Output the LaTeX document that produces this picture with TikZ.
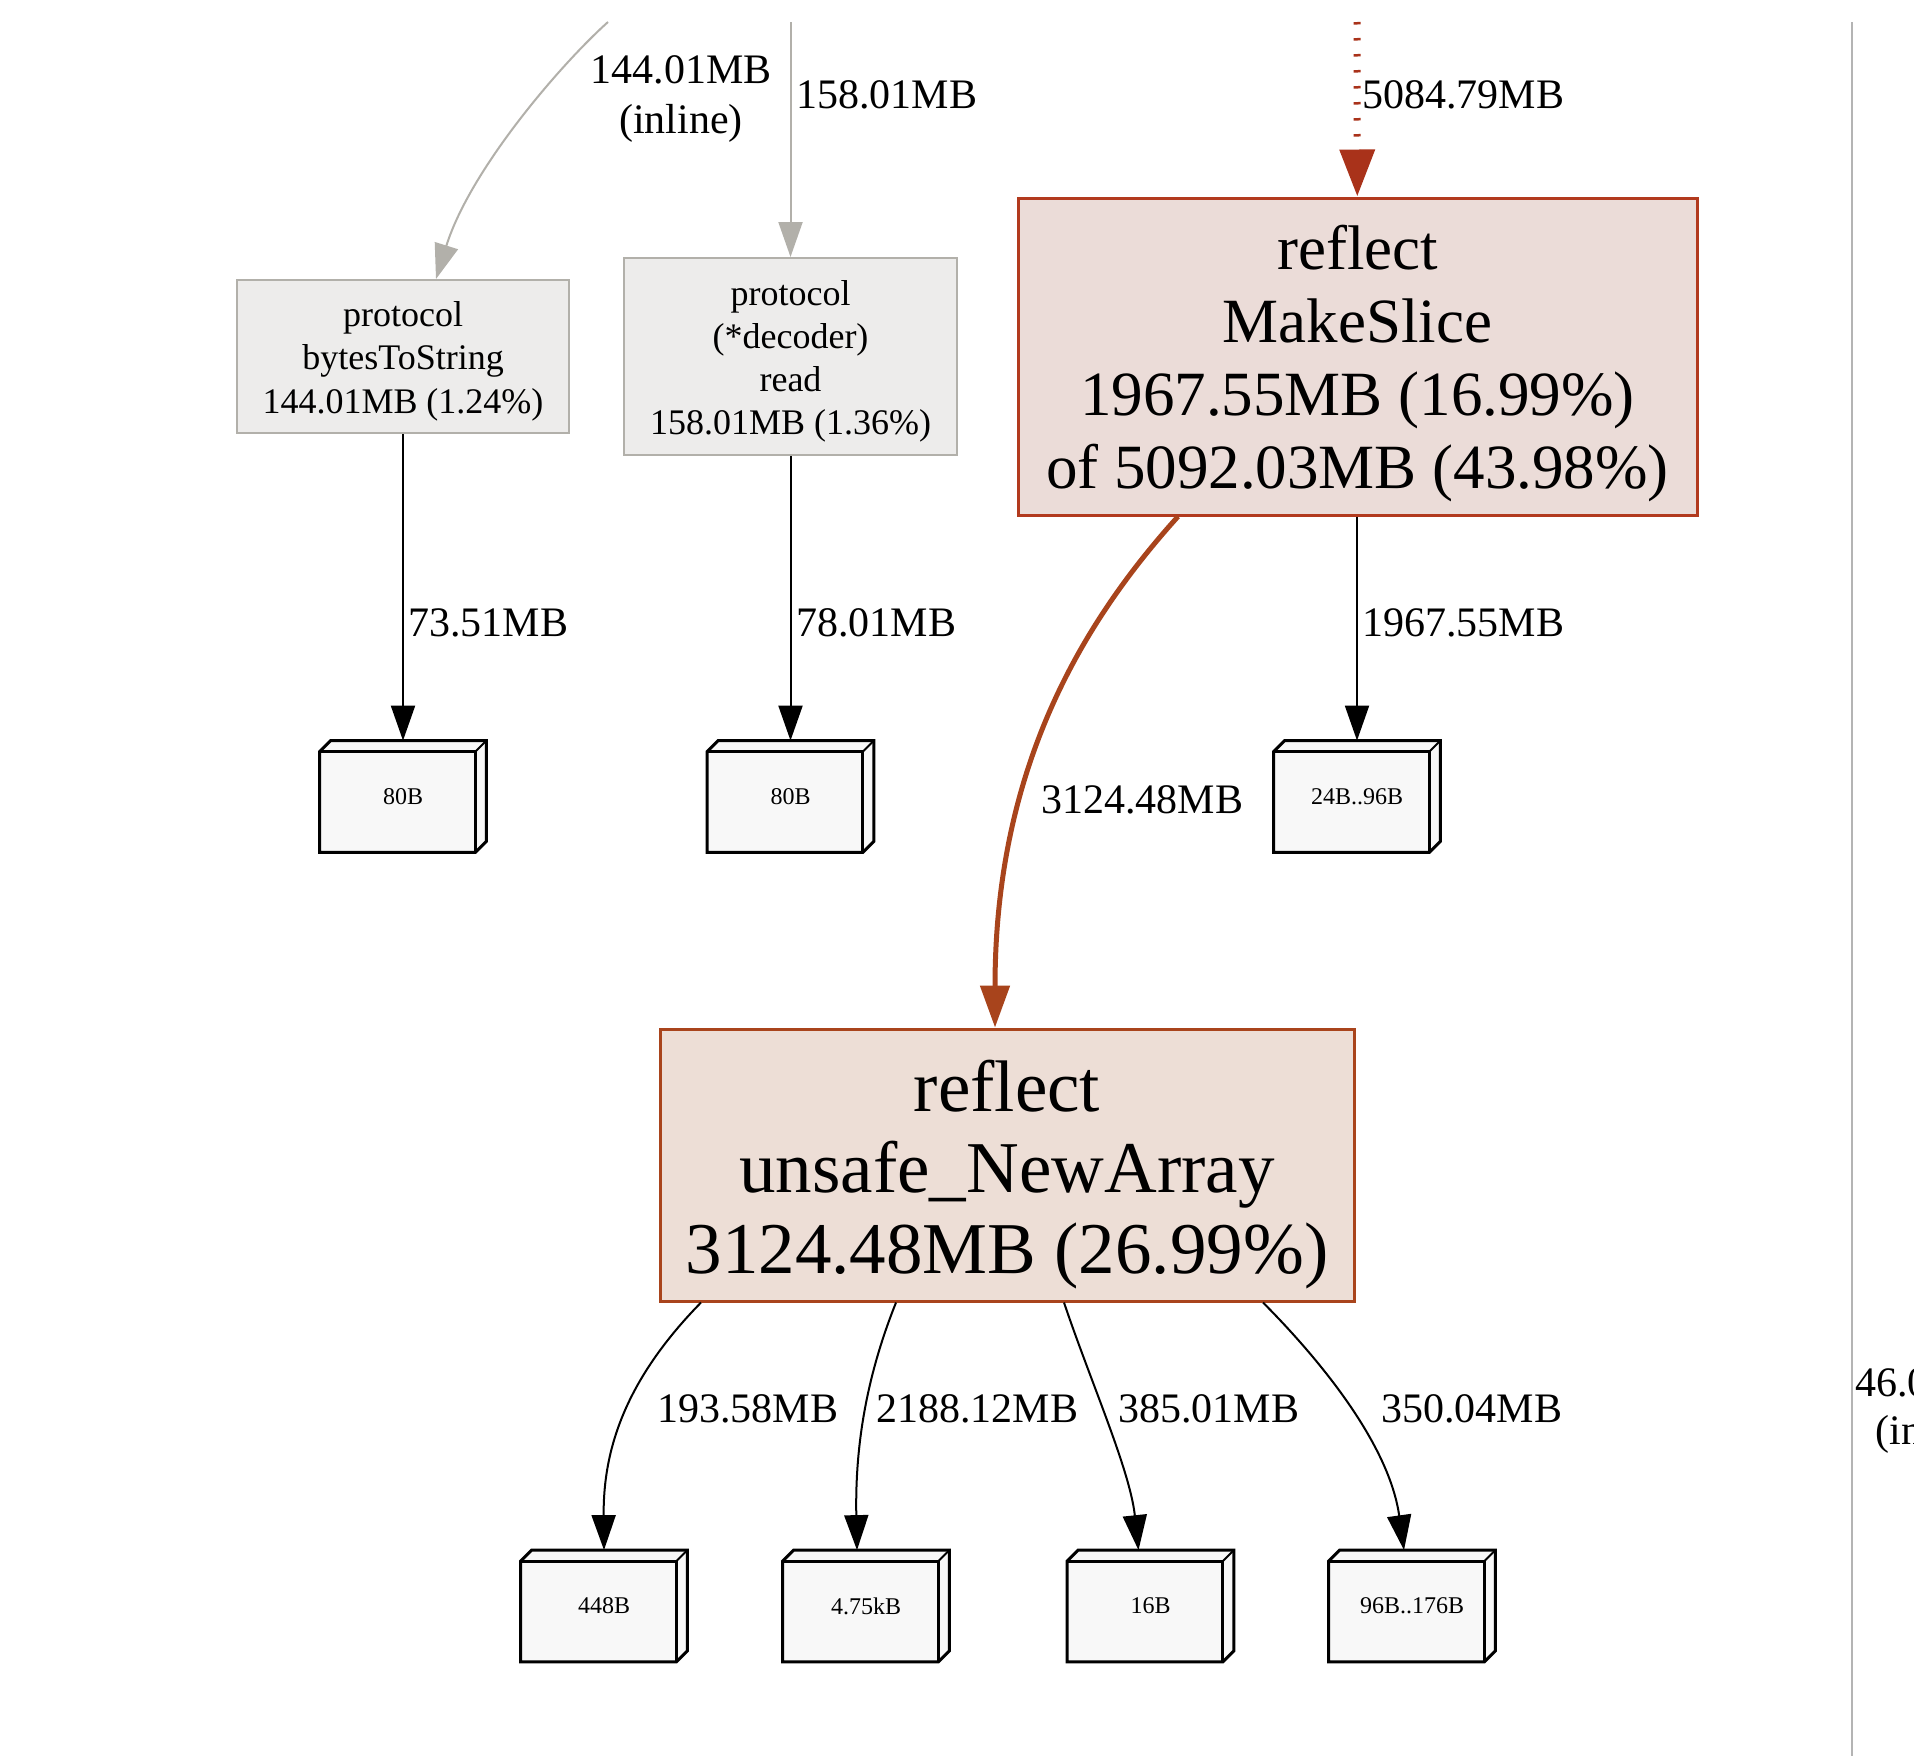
\documentclass[tikz,border=0pt]{standalone}
\usepackage{fontspec}
\setmainfont{Liberation Serif}
\usetikzlibrary{arrows.meta,backgrounds}
\definecolor{edgegray}{HTML}{B2B0AA}
\definecolor{grayfill}{HTML}{EDECEB}
\definecolor{mksline}{HTML}{B23A1E}
\definecolor{mksfill}{HTML}{EBDCD8}
\definecolor{nwaline}{HTML}{A9441C}
\definecolor{nwafill}{HTML}{EDDED6}
\definecolor{hotedge}{HTML}{A9321A}
\definecolor{warmedge}{HTML}{A8441C}
\definecolor{blkfill}{HTML}{F8F8F8}
\definecolor{rulegray}{HTML}{B4B4B4}

\begin{document}
\begin{tikzpicture}[x=0.5pt,y=-0.5pt]
\tikzstyle{fn}=[rectangle,draw=edgegray,fill=grayfill,line width=1pt,inner sep=0pt,align=center,font=\fontsize{18}{21.6}\selectfont]
\tikzstyle{hotfn}=[rectangle,line width=1.5pt,inner sep=0pt,align=center]
\tikzstyle{blk}=[rectangle,inner sep=0pt,minimum width=83pt,minimum height=55.5pt,font=\fontsize{12}{14}\selectfont]
\tikzstyle{lbl}=[anchor=west,inner sep=0pt,align=center,font=\fontsize{21}{25}\selectfont]
\tikzstyle{thin}=[line width=1pt,-{Triangle[length=17.5pt,width=12pt]}]
\tikzstyle{grayedge}=[thin,color=edgegray]
\useasboundingbox (0,0) rectangle (1914,1756);

% functions
\node[fn,minimum width=166pt,minimum height=76.5pt](bts) at (403,356.5) {\rule{0pt}{17.3pt}protocol\\bytesToString\\144.01MB (1.24\%)};
\node[fn,minimum width=166.5pt,minimum height=98.5pt](dec) at (790.5,356.5) {\rule{0pt}{17.3pt}protocol\\(*decoder)\\read\\158.01MB (1.36\%)};
\node[hotfn,draw=mksline,fill=mksfill,minimum width=339.5pt,minimum height=158.5pt,font=\fontsize{31.5}{36.5}\selectfont](mks) at (1357.5,356.5) {\rule{0pt}{29pt}reflect\\MakeSlice\\1967.55MB (16.99\%)\\of 5092.03MB (43.98\%)};
\node[hotfn,draw=nwaline,fill=nwafill,minimum width=347pt,minimum height=136pt,font=\fontsize{36.5}{40.5}\selectfont](nwa) at (1007,1165) {\rule{0pt}{35pt}reflect\\unsafe\_NewArray\\3124.48MB (26.99\%)};

% allocation sizes
\node[blk](b1) at (403,796.5) {80B};
\node[blk](b2) at (790.5,796.5) {80B};
\node[blk](b3) at (1357,796.5) {24B..96B};
\node[blk](c1) at (604,1606) {448B};
\node[blk](c2) at (866,1606) {4.75kB};
\node[blk](c3) at (1150.5,1606) {16B};
\node[blk](c4) at (1412,1606) {96B..176B};
\begin{scope}[on background layer]
\fill[white] (0,0) rectangle (1914,1756);
\foreach \b in {b1,b2,b3,c1,c2,c3,c4}{
  \draw[line width=1.5pt,fill=blkfill] ([shift={(0,11)}]\b.north west) -- ([shift={(11,0)}]\b.north west) -- (\b.north east) -- ([shift={(0,-11)}]\b.south east) -- ([shift={(-11,0)}]\b.south east) -- (\b.south west) -- cycle;
  \draw[line width=1.5pt] ([shift={(0,11)}]\b.north west) -- ([shift={(-11,11)}]\b.north east) -- ([shift={(-11,0)}]\b.south east);
  \draw[line width=1pt] ([shift={(-11,11)}]\b.north east) -- (\b.north east);
}
\end{scope}

% callers above the view
\coordinate (srcA) at (608,22);
\coordinate (srcB) at (790.5,22);
\coordinate (srcC) at (1357,22);
\coordinate (rtop) at (1852,22);
\coordinate (rbot) at (1852,1756);

\draw[grayedge] (srcA) .. controls (560,65) and (470,170) .. ([shift={(33,0)}]bts.north);
\draw[grayedge] (srcB) -- (dec);
\draw[color=hotedge,line width=3.5pt,dash pattern=on 1.25pt off 6.75pt,-{Triangle[length=23.5pt,width=17pt]}] (srcC) -- (mks);
\draw[color=rulegray,line width=1.2pt] (rtop) -- (rbot);

\draw[thin] (bts) -- (b1);
\draw[thin] (dec) -- (b2);
\draw[thin] ([shift={(-0.5,0)}]mks.south) -- (b3);
\draw[color=warmedge,line width=2.5pt,-{Triangle[length=21pt,width=14.5pt]}] ([shift={(-179.5,0)}]mks.south) .. controls (1080,625) and (995,770) .. ([shift={(-12,0)}]nwa.north);

\draw[thin] ([shift={(-306,0)}]nwa.south) .. controls (625,1380) and (603,1450) .. (c1.north);
\draw[thin] ([shift={(-111,0)}]nwa.south) .. controls (865,1380) and (855,1450) .. ([shift={(-9,0)}]c2.north);
\draw[thin] ([shift={(57,0)}]nwa.south) .. controls (1090,1380) and (1130,1470) .. ([shift={(-12,0)}]c3.north);
\draw[thin] ([shift={(256,0)}]nwa.south) .. controls (1330,1370) and (1390,1450) .. ([shift={(-8,0)}]c4.north);

% edge labels
\node[lbl,anchor=center](lA) at (681,99) {144.01MB\\(inline)};
\node[lbl](lB) at (796,95) {158.01MB};
\node[lbl](lC) at (1362,95) {5084.79MB};
\node[lbl](l1) at (408,623) {73.51MB};
\node[lbl](l2) at (796,623) {78.01MB};
\node[lbl](l3) at (1362,623) {1967.55MB};
\node[lbl](l4) at (1041,800) {3124.48MB};
\node[lbl](l5) at (657,1409) {193.58MB};
\node[lbl](l6) at (876,1409) {2188.12MB};
\node[lbl](l7) at (1118,1409) {385.01MB};
\node[lbl](l8) at (1381,1409) {350.04MB};
\node[lbl](cut1) at (1855,1383) {46.0};
\node[lbl](cut2) at (1875,1434) {(in};
\end{tikzpicture}
\end{document}
